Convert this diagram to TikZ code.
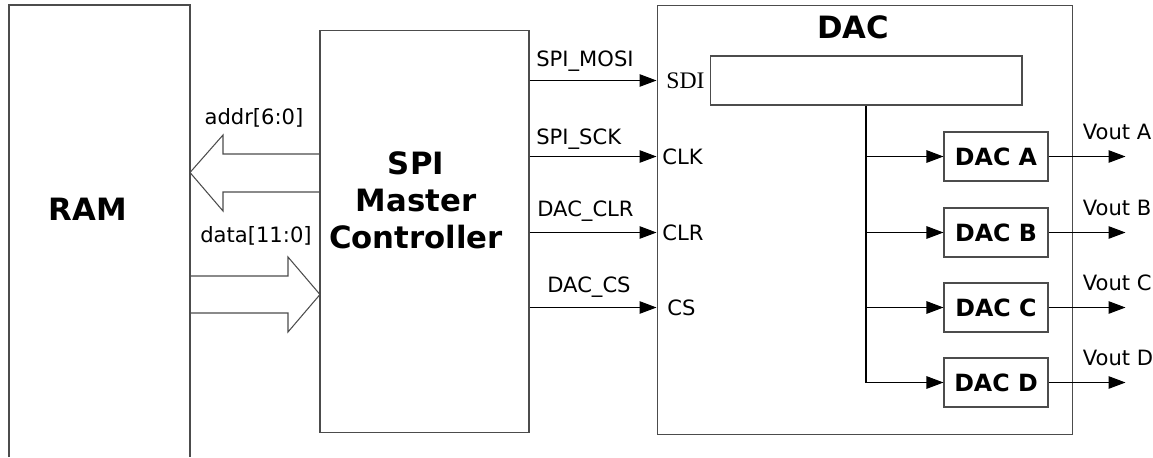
\documentclass[tikz,border=0pt]{standalone}
\usepackage{fontspec}
\setmainfont{DejaVu Sans}
\newfontfamily\portfont{Liberation Serif}
\usetikzlibrary{arrows.meta}

\tikzset{
  blk/.style={draw=black!70, line width=0.6pt, minimum height=0.98cm, inner sep=0pt},
  sig/.style={line width=0.6pt, -{Triangle[length=0.34cm,width=0.25cm]}},
  lbl/.style={font=\fontsize{12}{14}\selectfont, inner sep=0pt},
  big/.style={font=\fontsize{17.5}{21}\selectfont\bfseries, inner sep=0pt},
  unit/.style={blk, minimum width=2.08cm, font=\fontsize{13.5}{15}\selectfont\bfseries},
  bus/.style={draw=black!70, line width=0.6pt},
}

\begin{document}
\begin{tikzpicture}[x=0.02cm,y=-0.02cm]
  \useasboundingbox (0,0) rectangle (1153,457);

  % RAM, open at the bottom
  \draw[bus] (9,457) |- (190,5) -- (190,457);
  \node[big, anchor=base] (ram) at (88,220) {RAM};

  % controller
  \node[blk, minimum width=4.18cm, minimum height=8.06cm] (spi) at (424.5,231.5) {};
  \node[big, align=center] (spitxt) at (416,200) {SPI\\Master\\Controller};

  % wide buses
  \draw[bus] (320,154) -| (223,135) -- (190,172.5) -- (223,211) |- (320,192);
  \draw[bus] (190,276) -| (288,257) -- (320,294.5) -- (288,332) |- (190,313);
  \node[lbl, anchor=base] (addr) at (254,124) {addr[6:0]};
  \node[lbl, anchor=base] (data) at (256,242) {data[11:0]};

  % DAC
  \node[blk, minimum width=8.32cm, minimum height=8.6cm] (dac) at (865,220) {};
  \node[big, anchor=base] (dactitle) at (853,38) {DAC};
  \node[blk, minimum width=6.24cm] (reg) at (866,80.5) {};
  \foreach \n/\l/\y in {a/A/156.5,b/B/232.5,c/C/307.5,d/D/382.5}
    \node[unit] (dac\n) at (996,\y) {DAC \l};

  % SPI lines
  \draw[sig] (spi.east |- reg) -- (dac.west |- reg);
  \draw[sig] (spi.east |- daca) -- (dac.west |- daca);
  \draw[sig] (spi.east |- dacb) -- (dac.west |- dacb);
  \draw[sig] (spi.east |- dacc) -- (dac.west |- dacc);
  \node[lbl, anchor=base west] (mosi) at (536,66) {SPI\_MOSI};
  \node[lbl, anchor=base west] (sck) at (536,144) {SPI\_SCK};
  \node[lbl, anchor=base west] (clr) at (537,216) {DAC\_CLR};
  \node[lbl, anchor=base west] (cs) at (547,292) {DAC\_CS};

  \node[lbl, anchor=west, font=\portfont\fontsize{13.5}{15}\selectfont] (sdi) at (666,80.5) {SDI};
  \node[lbl, anchor=west] (clk) at (662,156.5) {CLK};
  \node[lbl, anchor=west] (clrin) at (662,232.5) {CLR};
  \node[lbl, anchor=west] (csin) at (667,307.5) {CS};

  % internal bus and outputs
  \draw[sig] (reg.south) |- (dacd.west);
  \foreach \n in {a,b,c}
    \draw[sig] (reg.south |- dac\n) -- (dac\n.west);
  \foreach \n/\l in {a/A,b/B,c/C,d/D} {
    \draw[sig] (dac\n.east) -- ++(77,0) coordinate (out\n);
    \node[lbl, anchor=base west] (vout\n) at ([shift={(34,-17)}]dac\n.east) {Vout \l};
  }
\end{tikzpicture}
\end{document}
